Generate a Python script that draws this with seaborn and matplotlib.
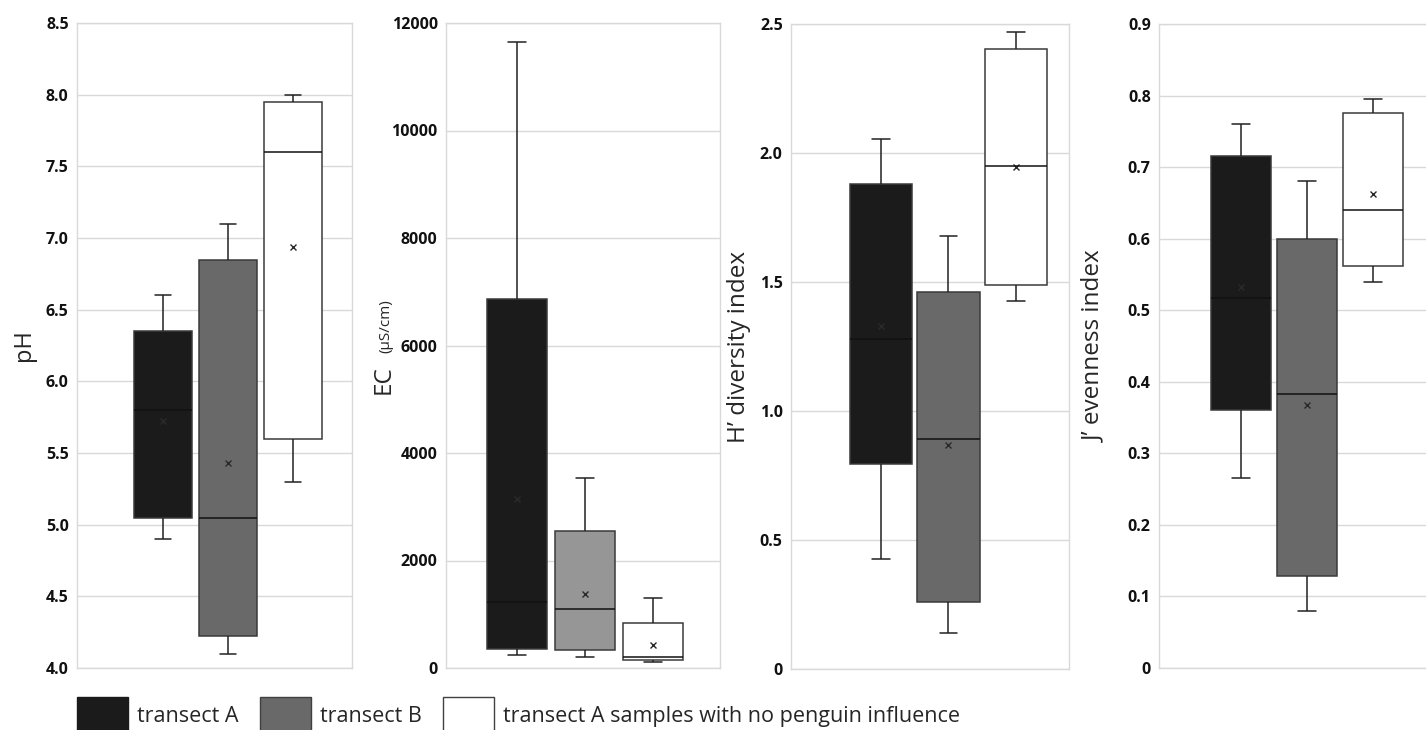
import numpy as np
import pandas as pd
import seaborn as sns
import matplotlib.pyplot as plt
from matplotlib.patches import Patch

# Groups shown in every panel
groups = ['transect A', 'transect B', 'transect A samples with no penguin influence']

# Box summaries: min, Q1, median, Q3, max
ph_A = [4.90, 5.05, 5.80, 6.35, 6.60]
ph_B = [4.10, 4.22, 5.05, 6.85, 7.10]
ph_C = [5.30, 5.60, 7.60, 7.95, 8.00]
ph_means = [5.72, 5.43, 6.94]

ec_A = [250, 350, 1230, 6870, 11650]
ec_B = [210, 330, 1100, 2550, 3530]
ec_C = [110, 150, 200, 840, 1310]
ec_means = [3150, 1380, 430]

h_A = [0.425, 0.795, 1.28, 1.88, 2.055]
h_B = [0.14, 0.26, 0.89, 1.46, 1.68]
h_C = [1.425, 1.49, 1.95, 2.405, 2.47]
h_means = [1.33, 0.87, 1.945]

j_A = [0.265, 0.36, 0.517, 0.715, 0.76]
j_B = [0.08, 0.128, 0.383, 0.60, 0.68]
j_C = [0.54, 0.562, 0.64, 0.775, 0.795]
j_means = [0.533, 0.368, 0.663]

# tick values / labels
ph_ticks = [4.0, 4.5, 5.0, 5.5, 6.0, 6.5, 7.0, 7.5, 8.0, 8.5]
ph_labels = ['4.0', '4.5', '5.0', '5.5', '6.0', '6.5', '7.0', '7.5', '8.0', '8.5']
ec_ticks = [0, 2000, 4000, 6000, 8000, 10000, 12000]
ec_labels = ['0', '2000', '4000', '6000', '8000', '10000', '12000']
h_ticks = [0, 0.5, 1.0, 1.5, 2.0, 2.5]
h_labels = ['0', '0.5', '1.0', '1.5', '2.0', '2.5']
j_ticks = [0, 0.1, 0.2, 0.3, 0.4, 0.5, 0.6, 0.7, 0.8, 0.9]
j_labels = ['0', '0.1', '0.2', '0.3', '0.4', '0.5', '0.6', '0.7', '0.8', '0.9']

dark = '#1b1b1b'
mid = '#696969'
light_mid = '#969696'
grid_col = '#d9d9d9'

sns.set_theme(style='white')
plt.rcParams['font.family'] = ['Open Sans', 'DejaVu Sans']

W, H = 1426, 730
fig = plt.figure(figsize=(W / 100, H / 100), dpi=100)


def px_axes(left, right, top, bottom):
    return fig.add_axes([left / W, (H - bottom) / H, (right - left) / W, (bottom - top) / H])


def panel(ax, vals, means, palette, ylim, ticks, labels, xlim, width):
    df = pd.DataFrame({'group': np.repeat(groups, 5),
                       'value': vals[0] + vals[1] + vals[2]})
    sns.boxplot(data=df, x='group', y='value', hue='group', order=groups,
                hue_order=groups, palette=palette, whis=(0, 100), width=width,
                linecolor='#3a3a3a', linewidth=1.1, legend=False, ax=ax,
                capwidths=0.26, showfliers=False,
                whiskerprops=dict(color='#222222'), capprops=dict(color='#222222'),
                medianprops=dict(color='#111111'))
    sns.pointplot(x=groups, y=means, order=groups, errorbar=None,
                  linestyle='none', marker='x', color='#2a2a2a',
                  markersize=5, markeredgewidth=1.0, ax=ax)
    ax.set_xlim(xlim)
    ax.set_ylim(ylim)
    ax.set_yticks(ticks)
    ax.set_yticklabels(labels, fontweight='bold', fontsize=11.5)
    ax.set_xticks([])
    ax.set_xlabel('')
    ax.set_ylabel('')
    ax.tick_params(axis='y', length=0, pad=6, colors='#111111')
    ax.yaxis.grid(True, color=grid_col, linewidth=1)
    ax.set_axisbelow(True)
    for sp in ax.spines.values():
        sp.set_color(grid_col)
        sp.set_linewidth(1)


pal = [dark, mid, 'white']
pal_ec = [dark, light_mid, 'white']

ax1 = px_axes(77, 352, 23, 668)
panel(ax1, [ph_A, ph_B, ph_C], ph_means, pal, (4.0, 8.5), ph_ticks, ph_labels,
      (-1.323, 2.908), 0.9)
ax1.set_ylabel('pH', fontsize=17)
ax1.yaxis.set_label_coords(-0.15, 0.5)

ax2 = px_axes(446, 720, 23, 668)
panel(ax2, [ec_A, ec_B, ec_C], ec_means, pal_ec, (0, 12000), ec_ticks, ec_labels,
      (-1.044, 2.985), 0.87)
ax2.text(-0.205, 0.447, 'EC', rotation=90, rotation_mode='anchor', ha='center',
         va='baseline', fontsize=17.5, transform=ax2.transAxes)
ax2.text(-0.205, 0.53, '(µS/cm)', rotation=90, rotation_mode='anchor', ha='center',
         va='baseline', fontsize=11, transform=ax2.transAxes)

ax3 = px_axes(791, 1069, 24, 669)
panel(ax3, [h_A, h_B, h_C], h_means, pal, (0, 2.5), h_ticks, h_labels,
      (-1.333, 2.785), 0.92)
ax3.set_ylabel('H’ diversity index', fontsize=17.5)
ax3.yaxis.set_label_coords(-0.145, 0.5)

ax4 = px_axes(1159, 1430, 24, 668)
panel(ax4, [j_A, j_B, j_C], j_means, pal, (0, 0.9), j_ticks, j_labels,
      (-1.242, 2.864), 0.91)
ax4.set_ylabel('J’ evenness index', fontsize=17.5)
ax4.yaxis.set_label_coords(-0.195, 0.5)

handles = [Patch(facecolor=dark, edgecolor=dark),
           Patch(facecolor=mid, edgecolor='#404040'),
           Patch(facecolor='white', edgecolor='#404040')]
fig.legend(handles=handles, labels=groups, loc='upper left',
           bbox_to_anchor=(77 / W, (H - 697) / H), ncol=3, frameon=False, fontsize=15.5,
           handlelength=2.37, handleheight=2.3, handletextpad=0.42,
           columnspacing=1.0, borderaxespad=0, borderpad=0)

fig.savefig('out.png', dpi=100)
